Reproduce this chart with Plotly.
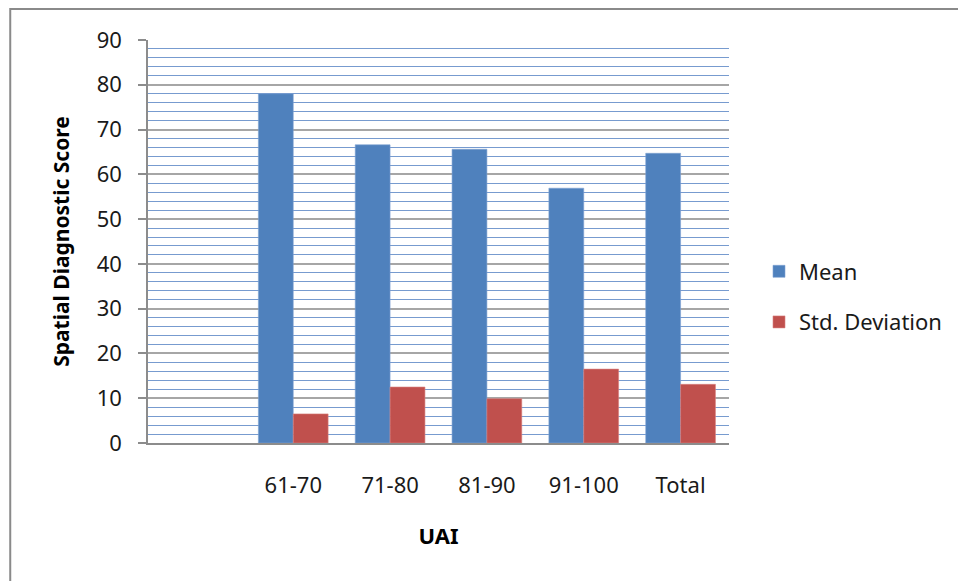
import plotly.graph_objects as go

# UAI bands (the first slot on the axis is left empty)
categories = [" ", "61-70", "71-80", "81-90", "91-100", "Total"]
mean_scores = [None, 78.0, 66.6, 65.6, 56.9, 64.7]
std_scores = [None, 6.5, 12.5, 9.9, 16.5, 13.1]
y_ticks = [0, 10, 20, 30, 40, 50, 60, 70, 80, 90]

BLUE = "#4F81BD"
RED = "#C0504D"
FONT = "Noto Sans"

fig = go.Figure()
fig.add_trace(go.Bar(
    x=categories, y=mean_scores, name="Mean",
    marker=dict(color=BLUE, line=dict(color="#7FA3D3", width=0.6)),
    legendgroup="m",
))
fig.add_trace(go.Bar(
    x=categories, y=std_scores, name="Std. Deviation",
    marker=dict(color=RED, line=dict(color="#D9827F", width=0.6)),
    legendgroup="s",
))

# plot area in pixels: x 148..730, y 40..443
L, R, T, B = 148, 730, 40, 443
W, H = 958, 581
pw, ph = R - L, B - T


def px(x):
    return (x - L) / pw


def py(y):
    return (B - y) / ph


fig.update_layout(
    width=W, height=H,
    margin=dict(l=L, r=W - R, t=T, b=H - B),
    paper_bgcolor="white", plot_bgcolor="white",
    barmode="group", bargap=0.28, bargroupgap=0.0,
    font=dict(family=FONT, size=22, color="#1a1a1a"),
    showlegend=True,
    legend=dict(
        x=px(759), y=py(297), xanchor="left", yanchor="middle",
        traceorder="grouped", tracegroupgap=19,
        font=dict(family=FONT, size=22, color="#1a1a1a"),
        bgcolor="rgba(0,0,0,0)",
    ),
    xaxis=dict(
        type="category", categoryarray=categories, categoryorder="array",
        showgrid=False, showline=True, linecolor="#8c8c8c", linewidth=1.5,
        ticks="", ticklabelstandoff=22,
        tickfont=dict(family=FONT, size=22, color="#1a1a1a"),
        title=dict(text="<b>UAI</b>", font=dict(family=FONT, size=22, color="#000"),
                   standoff=30),
        fixedrange=True,
    ),
    yaxis=dict(
        range=[0, 90], tickvals=y_ticks,
        showgrid=True, gridcolor="#A6A6A6", gridwidth=1.5,
        minor=dict(dtick=2, showgrid=True, gridcolor="#779BCF", gridwidth=1.4,
                   ticks=""),
        showline=True, linecolor="#8c8c8c", linewidth=1.5,
        ticks="outside", ticklen=8, tickcolor="#8c8c8c", tickwidth=1.5,
        ticklabelstandoff=12,
        tickfont=dict(family=FONT, size=22, color="#1a1a1a"),
        zeroline=False,
        title=dict(text="<b>Spatial Diagnostic Score</b>",
                   font=dict(family=FONT, size=21, color="#000"), standoff=21),
        fixedrange=True,
    ),
    shapes=[dict(
        type="rect", xref="paper", yref="paper",
        x0=px(10), x1=px(962), y0=py(595), y1=py(9),
        line=dict(color="#8a8a8a", width=2), fillcolor="rgba(0,0,0,0)",
        layer="below",
    )],
)

fig.write_html("out.html")
